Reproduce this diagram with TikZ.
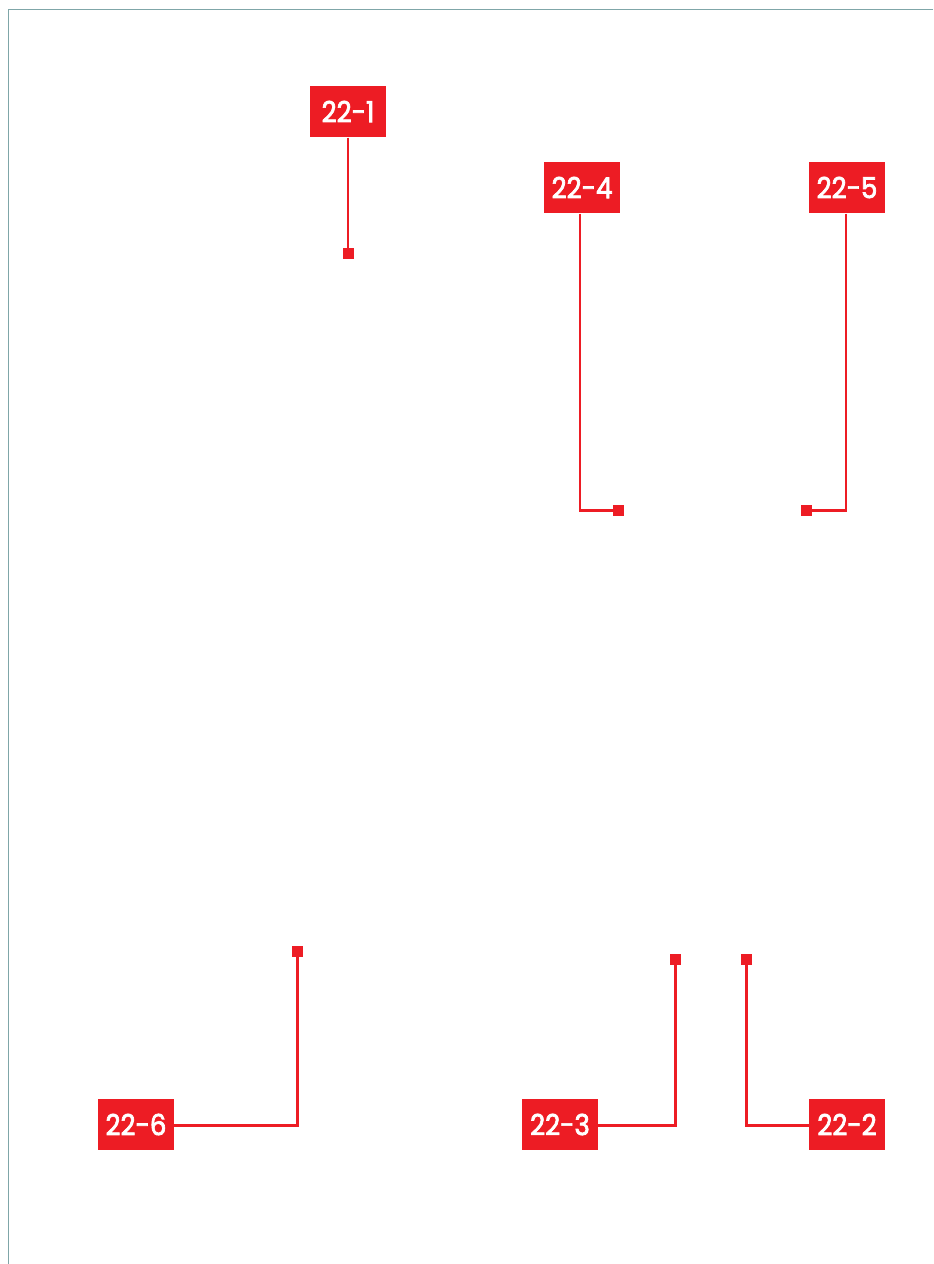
\documentclass[tikz,border=0pt]{standalone}
\usepackage{fontspec}
\setmainfont{Poppins}
\newfontfamily\tagfont{Poppins}[FakeBold=2.4, FakeStretch=0.9]
\usetikzlibrary{positioning}
\definecolor{calloutred}{HTML}{ED1C24}
\definecolor{frameteal}{HTML}{7FA6A8}

\begin{document}
\begin{tikzpicture}[
    x=0.02cm, y=-0.02cm,
    calltag/.style={
        fill=calloutred,
        text=white,
        minimum width=1.52cm,
        minimum height=1.03cm,
        inner sep=0pt,
        font=\tagfont\fontsize{16.5}{16.5}\selectfont
    },
    tipsq/.style={fill=calloutred, minimum size=0.22cm, inner sep=0pt},
    leader/.style={draw=calloutred, line width=1.4pt}
]
\useasboundingbox (0,0) rectangle (933,1264);

% frame
\draw[frameteal, line width=1.1pt] (933,9.5) -- (8.5,9.5) -- (8.5,1264);

% labels
\node[calltag] (t1) at (348,111.5) {22-1};
\node[calltag] (t4) at (582,187.5) {22-4};
\node[calltag] (t5) at (847,187.5) {22-5};
\node[calltag] (t6) at (136,1124.5) {22-6};
\node[calltag] (t3) at (560,1124.5) {22-3};
\node[calltag] (t2) at (847,1124.5) {22-2};

% pointed spots
\node[tipsq] (s1) at (348,253) {};
\node[tipsq] (s4) at (618.5,510.5) {};
\node[tipsq] (s5) at (806.5,510.5) {};
\node[tipsq] (s6) at (297.5,951) {};
\node[tipsq] (s3) at (675.5,959.5) {};
\node[tipsq] (s2) at (746.5,959.5) {};

\draw[leader] (t1.south) -- (s1.center);
\draw[leader] ([xshift=-0.04cm]t4.south) |- (s4.center);
\draw[leader] ([xshift=-0.02cm]t5.south) |- (s5.center);
\draw[leader] ([yshift=-0.02cm]t6.east) -| (s6.center);
\draw[leader] ([yshift=-0.02cm]t3.east) -| (s3.center);
\draw[leader] ([yshift=-0.02cm]t2.west) -| (s2.center);

\end{tikzpicture}
\end{document}
